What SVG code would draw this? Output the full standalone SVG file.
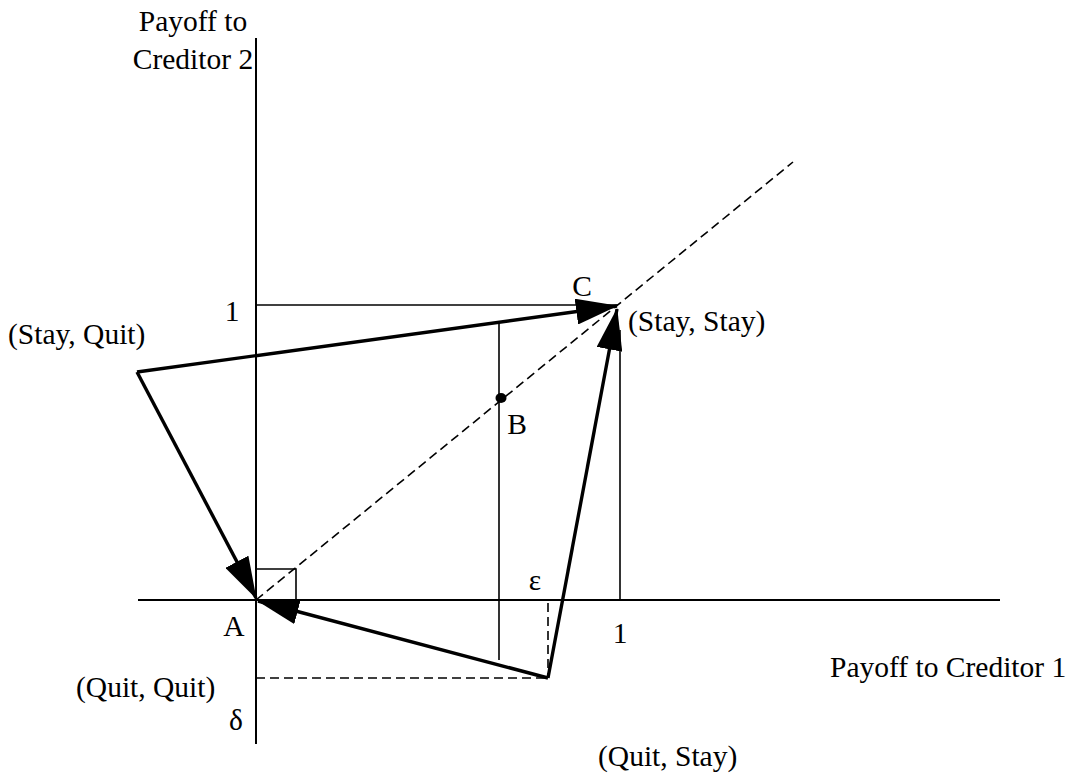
<svg xmlns="http://www.w3.org/2000/svg" width="1069" height="775" viewBox="0 0 1069 775">
<style>
text{font-family:"Liberation Serif","Times New Roman",serif;font-size:29.5px;fill:#000}
.axis{stroke:#000;stroke-width:2;fill:none}
.thin{stroke:#000;stroke-width:1.6;fill:none}
.dash{stroke:#000;stroke-width:1.6;fill:none;stroke-dasharray:9 5}
.thick{stroke:#000;stroke-width:3.4;fill:none}
.m{text-anchor:middle}
</style>
<defs>
<marker id="ah" viewBox="0 0 42 26" refX="41" refY="13" markerWidth="42" markerHeight="26" markerUnits="userSpaceOnUse" orient="auto">
<path d="M0,0 L42,13 L0,26 Z" fill="#000"/>
</marker>
</defs>
<g id="axes">
<line class="axis" x1="256" y1="38" x2="256" y2="744"/>
<line class="axis" x1="138" y1="600" x2="1000" y2="600"/>
</g>
<g id="guides">
<line class="thin" x1="256" y1="305" x2="618" y2="305"/>
<line class="thin" x1="620" y1="600" x2="620" y2="330"/>
<line class="thin" x1="499" y1="322" x2="499" y2="660"/>
<polyline class="thin" points="256,569 296,569 296,600"/>
<line class="dash" x1="256" y1="600" x2="793" y2="162"/>
<line class="dash" x1="548" y1="603" x2="548" y2="678"/>
<line class="dash" x1="256" y1="678" x2="548" y2="678"/>
<ellipse cx="501" cy="398" rx="5.5" ry="5" fill="#000"/>
</g>
<g id="connectors">
<line class="thick" x1="137" y1="372" x2="617" y2="306" marker-end="url(#ah)"/>
<line class="thick" x1="137" y1="372" x2="256" y2="598" marker-end="url(#ah)"/>
<line class="thick" x1="548" y1="678" x2="617" y2="309" marker-end="url(#ah)"/>
<line class="thick" x1="548" y1="678" x2="258" y2="601" marker-end="url(#ah)"/>
</g>
<g id="labels">
<text class="m" x="193" y="31">Payoff to</text>
<text class="m" x="193" y="69">Creditor 2</text>
<text class="m" x="232" y="321">1</text>
<text x="8" y="344">(Stay, Quit)</text>
<text class="m" x="582" y="296">C</text>
<text x="628" y="331">(Stay, Stay)</text>
<text class="m" x="517" y="434">B</text>
<text class="m" x="535" y="590">ε</text>
<text class="m" x="234" y="636">A</text>
<text x="76" y="697">(Quit, Quit)</text>
<text class="m" x="620" y="643">1</text>
<text x="830" y="677">Payoff to Creditor 1</text>
<text class="m" x="236" y="730">δ</text>
<text x="598" y="766">(Quit, Stay)</text>
</g>
</svg>
